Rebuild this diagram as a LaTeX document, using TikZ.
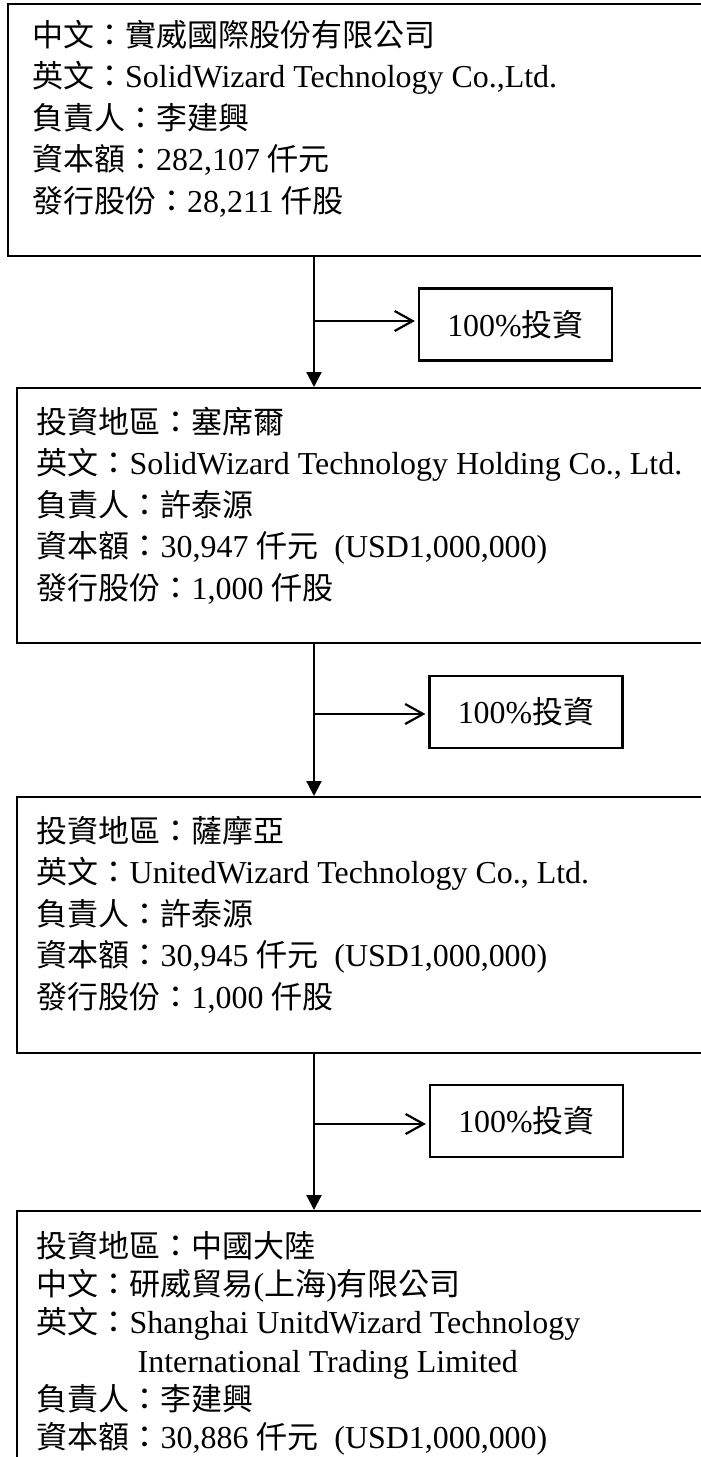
\documentclass[tikz,border=0pt]{standalone}
\usepackage{fontspec}
\setmainfont{Liberation Serif}[Scale=1.03]
\newfontfamily\cjkfont{Noto Sans CJK TC}
\newcommand{\zh}[1]{{\cjkfont #1}}
\usetikzlibrary{positioning}
\usetikzlibrary{arrows.meta}

\begin{document}
\begin{tikzpicture}[x=1pt, y=-1pt,
infobox/.style={rectangle, draw=black, line width=2.2pt, anchor=north west, inner sep=0pt},
infotext/.style={align=left, inner sep=0pt, font=\fontsize{31}{41.5}\selectfont},
sharebox/.style={rectangle, draw=black, line width=2.2pt, minimum width=193pt, minimum height=72pt, inner sep=0pt, font=\fontsize{31}{36}\selectfont},
downarrow/.style={line width=2.2pt, -{Triangle[width=15pt,length=15pt]}},
sidearrow/.style={line width=2.2pt, -{Straight Barb[length=18pt,width=20pt]}, shorten >=3pt},
]
\useasboundingbox (0,0) rectangle (701,1457);
\clip (0,0) rectangle (701,1457);

%Nodes
\node[infobox, minimum width=713pt, minimum height=252pt]   (hq)   at (7,3)      {};
\node[infobox, minimum width=705pt, minimum height=255pt]   (sub1) at (15.5,387) {};
\node[infobox, minimum width=705pt, minimum height=256pt]   (sub2) at (15.5,796) {};
\node[infobox, minimum width=705pt, minimum height=280pt]   (sub3) at (15.5,1210) {};

\node[infotext] (hqtext) [below right=17pt and 25pt of hq.north west] {%
\zh{中文：實威國際股份有限公司}\\
\zh{英文：}SolidWizard Technology Co.,Ltd.\\
\zh{負責人：李建興}\\
\zh{資本額：}282,107 \zh{仟元}\\
\zh{發行股份：}28,211 \zh{仟股}};
\node[infotext] (sub1text) [below right=20pt and 21pt of sub1.north west] {%
\zh{投資地區：塞席爾}\\
\zh{英文：}SolidWizard Technology Holding Co., Ltd.\\
\zh{負責人：許泰源}\\
\zh{資本額：}30,947 \zh{仟元}\ \ (USD1,000,000)\\
\zh{發行股份：}1,000 \zh{仟股}};
\node[infotext] (sub2text) [below right=20pt and 21pt of sub2.north west] {%
\zh{投資地區：薩摩亞}\\
\zh{英文：}UnitedWizard Technology Co., Ltd.\\
\zh{負責人：許泰源}\\
\zh{資本額：}30,945 \zh{仟元}\ \ (USD1,000,000)\\
\zh{發行股份：}1,000 \zh{仟股}};
\node[infotext, font=\fontsize{31}{38.3}\selectfont] (sub3text) [below right=21pt and 21pt of sub3.north west] {%
\zh{投資地區：中國大陸}\\
\zh{中文：研威貿易}(\zh{上海})\zh{有限公司}\\
\zh{英文：}Shanghai UnitdWizard Technology\\
\hspace*{101pt}International Trading Limited\\
\zh{負責人：李建興}\\
\zh{資本額：}30,886 \zh{仟元}\ \ (USD1,000,000)};

\node[sharebox] (share1) at (515.5,324.5) {100\%\zh{投資}};
\node[sharebox] (share2) at (526,712)     {100\%\zh{投資}};
\node[sharebox] (share3) at (526.5,1121)  {100\%\zh{投資}};

\coordinate (j1) at (314,321);
\coordinate (j2) at (314,714);
\coordinate (j3) at (314,1124);

%Lines
\draw[downarrow] (hq.south -| j1) -- (sub1.north -| j1);
\draw[downarrow] (sub1.south -| j2) -- (sub2.north -| j2);
\draw[downarrow] (sub2.south -| j3) -- (sub3.north -| j3);
\draw[sidearrow] (j1) -- (share1.west |- j1);
\draw[sidearrow] (j2) -- (share2.west |- j2);
\draw[sidearrow] (j3) -- (share3.west |- j3);
\end{tikzpicture}
\end{document}
